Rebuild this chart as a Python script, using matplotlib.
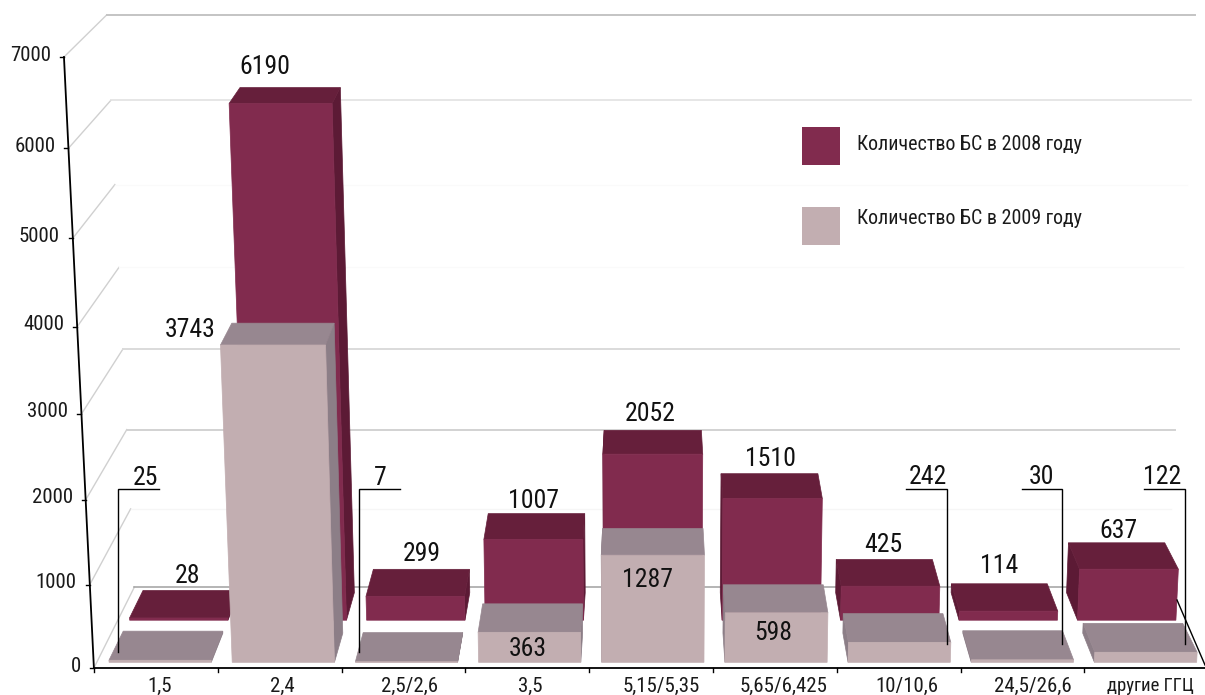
import matplotlib
matplotlib.use("Agg")
import matplotlib.pyplot as plt
from matplotlib.patches import Polygon, Rectangle

categories = ["1,5", "2,4", "2,5/2,6", "3,5", "5,15/5,35", "5,65/6,425", "10/10,6", "24,5/26,6", "другие ГГЦ"]
values_2008 = [28, 6190, 299, 1007, 2052, 1510, 425, 114, 637]
values_2009 = [25, 3743, 7, 363, 1287, 598, 242, 30, 122]
y_ticks = [0, 1000, 2000, 3000, 4000, 5000, 6000, 7000]
legend_2008 = "Количество БС в 2008 году"
legend_2009 = "Количество БС в 2009 году"

plt.rcParams['font.family'] = ['Roboto Condensed', 'DejaVu Sans']
fig = plt.figure(figsize=(12.05, 6.95), dpi=100)
ax = fig.add_axes([0, 0, 1, 1])
ax.set_xlim(0, 1205)
ax.set_ylim(695, 0)
ax.axis('off')

VMAX = 7000.0
CX = 651.0


def proj(u, d, v):
    """Perspective projection: u = category position, d = depth 0..1, v = value."""
    t = v / VMAX
    w = 1 - 0.051 * t
    s = 123.8 - 9.0 * d
    x0 = CX + (u - 4.5) * s
    y0 = 668 - 81 * d
    a = -613.9 + 41.1 * d
    return (CX + (x0 - CX) / w, (y0 + a * t) / w)


C08 = dict(front='#812B4E', top='#661F3B', side='#5C1A35')
C09 = dict(front='#C2AEB1', top='#978790', side='#8C7E87')


def poly(pts, color, z):
    ax.add_patch(Polygon(pts, closed=True, facecolor=color, edgecolor=color, lw=0.5, zorder=z))


def bar3d(i, v, d0, d1, col, z):
    u0, u1 = i + 0.10, i + 0.93
    side_u = u1 if i + 0.5 < 4.5 else u0
    poly([proj(side_u, d0, 0), proj(side_u, d1, 0), proj(side_u, d1, v), proj(side_u, d0, v)], col['side'], z)
    poly([proj(u0, d0, v), proj(u1, d0, v), proj(u1, d1, v), proj(u0, d1, v)], col['top'], z + 0.1)
    poly([proj(u0, d0, 0), proj(u1, d0, 0), proj(u1, d0, v), proj(u0, d0, v)], col['front'], z + 0.2)


# grid: back wall and left wall
grid_style = {0: ('#A8A8A8', 1.2), 1000: ('#F6F6F6', 1.0), 2000: ('#D2D2D2', 1.4), 3000: ('#DADADA', 1.4),
              4000: ('#FAFAFA', 1.0), 5000: ('#FAFAFA', 1.0), 6000: ('#E2E2E2', 1.2), 7000: ('#C4C4C4', 1.4)}
for v in y_ticks:
    c, lw = grid_style[v]
    p0, p1, p2 = proj(0, 0, v), proj(0, 1, v), proj(9, 1, v)
    ax.plot([p0[0], p1[0]], [p0[1], p1[1]], color='#D0D0D0', lw=1.0, zorder=1)
    ax.plot([p1[0], p2[0]], [p1[1], p2[1]], color=c, lw=lw, zorder=1)

for i, v in enumerate(values_2008):
    bar3d(i, v, 0.59, 0.93, C08, 3 + 0.01 * i)
for i, v in enumerate(values_2009):
    bar3d(i, v, 0.07, 0.43, C09, 5 + 0.01 * i)

# axes
p0, p1 = proj(0, 0, 0), proj(0, 0, VMAX)
ax.plot([p0[0], p1[0]], [p0[1], p1[1]], color='black', lw=1.3, zorder=8)
ax.plot([p0[0], 1205], [p0[1], p0[1]], color='black', lw=1.3, zorder=8)
for v in y_ticks:
    x, y = proj(0, 0, v)
    ax.plot([x - 4, x], [y, y], color='black', lw=1.0, zorder=8)
    ax.text(x - 13, y - 2, str(v), ha='right', va='center', fontsize=15, color='#1a1a1a', zorder=9)
for i in range(9):
    x, y = proj(i, 0, 0)
    ax.plot([x, x], [y, y + 4], color='black', lw=1.0, zorder=8)

xlabel_shift = [4, 3, 6, 3, 10, 9, 8, 10, 4]
for i, lab in enumerate(categories):
    x, y = proj(i + 0.5, 0, 0)
    fs = 13.5 if i == 8 else 15
    ax.text(x + xlabel_shift[i], 686, lab, ha='center', va='center', fontsize=fs, color='#1a1a1a', zorder=9)

# value labels
pos_2008 = [(187, 576), (265, 67), (422, 554), (533, 501), (650, 414), (770, 459), (883, 545), (999, 566), (1118, 531)]
pos_2009 = [(145, 478), (190, 330), (380, 478), (528, 649), (648, 580), (773, 633), (928, 477), (1041, 477), (1162, 477)]
for v, (x, y) in zip(values_2008, pos_2008):
    ax.text(x, y, str(v), ha='center', va='center', fontsize=18.5, color='#111111', zorder=10)
for v, (x, y) in zip(values_2009, pos_2009):
    ax.text(x, y, str(v), ha='center', va='center', fontsize=18.5, color='#111111', zorder=10)

# leader lines
leaders = [[(118, 652), (118, 489), (159, 489)],
           [(359, 652), (359, 489), (400, 489)],
           [(947, 644), (947, 489), (906, 489)],
           [(1062, 644), (1062, 489), (1022, 489)],
           [(1185, 644), (1185, 489), (1144, 489)],
           [(1177, 600), (1205, 665)]]
for seg in leaders:
    ax.plot([p[0] for p in seg], [p[1] for p in seg], color='black', lw=1.0, zorder=10, solid_joinstyle='miter')

# legend
ax.add_patch(Rectangle((802, 127), 38, 38, facecolor=C08['front'], edgecolor='none', zorder=6))
ax.add_patch(Rectangle((802, 207), 38, 38, facecolor=C09['front'], edgecolor='none', zorder=6))
ax.text(857, 145, legend_2008, ha='left', va='center', fontsize=14.45, color='#1a1a1a')
ax.text(857, 219, legend_2009, ha='left', va='center', fontsize=14.45, color='#1a1a1a')

fig.savefig('out.png', dpi=100)
